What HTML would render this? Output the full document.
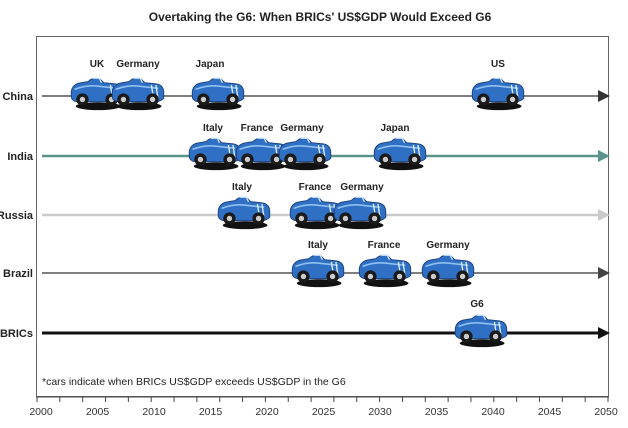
<!DOCTYPE html>
<html><head><meta charset="utf-8"><style>
html,body{margin:0;padding:0;background:#fff;}
svg{display:block;font-family:"Liberation Sans",Arial,sans-serif;}
</style></head><body>
<svg width="628" height="428" viewBox="0 0 628 428" xmlns="http://www.w3.org/2000/svg">
<defs>
<symbol id="car" viewBox="-25 -16 50 30" overflow="visible">
<ellipse cx="1" cy="9" rx="20" ry="3.5" fill="#111"/>
<path d="M-23,-4 Q-22,-11 -14,-12 L-8,-13 Q-4,-17 2,-16 L6,-12 L16,-11 Q23,-10 23,-3 L23,2 Q20,5 16,5 L-18,5 Q-23,4 -23,0 Z" fill="#2f6fc4" stroke="#1a3f7a" stroke-width="0.8"/>
<path d="M-20,-6 Q-10,-10 0,-9 L18,-7" stroke="#8fc0f0" stroke-width="1.5" fill="none"/>
<path d="M12,-10 L14,3 M16,-10 L18,3" stroke="#dfefff" stroke-width="1.2"/>
<path d="M-4,-16 L2,-16 L4,-12" stroke="#cfe6ff" stroke-width="1.2" fill="none"/>
<circle cx="-13" cy="3" r="5.5" fill="#1a1a1a"/><circle cx="-13" cy="3" r="2.4" fill="#ccc"/>
<circle cx="13" cy="3" r="5.5" fill="#1a1a1a"/><circle cx="13" cy="3" r="2.4" fill="#ccc"/>
</symbol>
</defs>
<text x="320" y="21" font-size="12" font-weight="bold" text-anchor="middle" fill="#222">Overtaking the G6: When BRICs' US$GDP Would Exceed G6</text>
<rect x="36.5" y="36.5" width="572" height="360" fill="none" stroke="#666" stroke-width="1"/>
<g font-size="11" font-weight="bold" fill="#222" text-anchor="end">
<text x="33" y="100">China</text><text x="33" y="160">India</text><text x="33" y="219">Russia</text><text x="33" y="277">Brazil</text><text x="33" y="337">BRICs</text>
</g>
<line x1="42" y1="96" x2="600" y2="96" stroke="#555" stroke-width="1.5"/><path d="M598,90 L610,96 L598,102Z" fill="#333"/>
<line x1="42" y1="156" x2="600" y2="156" stroke="#5a938a" stroke-width="2.5"/><path d="M598,150 L610,156 L598,162Z" fill="#5a938a"/>
<line x1="42" y1="215" x2="600" y2="215" stroke="#cacaca" stroke-width="2.5"/><path d="M598,209 L610,215 L598,221Z" fill="#cacaca"/>
<line x1="42" y1="273" x2="600" y2="273" stroke="#555" stroke-width="1.5"/><path d="M598,267 L610,273 L598,279Z" fill="#444"/>
<line x1="42" y1="333" x2="600" y2="333" stroke="#111" stroke-width="3"/><path d="M598,327 L610,333 L598,339Z" fill="#111"/>
<g>
<use href="#car" x="69" y="78" width="56" height="34"/>
<use href="#car" x="110" y="78" width="56" height="34"/>
<use href="#car" x="190" y="78" width="56" height="34"/>
<use href="#car" x="470" y="78" width="56" height="34"/>
<use href="#car" x="187" y="138" width="56" height="34"/>
<use href="#car" x="234" y="138" width="56" height="34"/>
<use href="#car" x="277" y="138" width="56" height="34"/>
<use href="#car" x="372" y="138" width="56" height="34"/>
<use href="#car" x="216" y="197" width="56" height="34"/>
<use href="#car" x="288" y="197" width="56" height="34"/>
<use href="#car" x="332" y="197" width="56" height="34"/>
<use href="#car" x="290" y="255" width="56" height="34"/>
<use href="#car" x="357" y="255" width="56" height="34"/>
<use href="#car" x="420" y="255" width="56" height="34"/>
<use href="#car" x="453" y="315" width="56" height="34"/>
</g>
<g font-size="10" font-weight="bold" fill="#222" text-anchor="middle">
<text x="97" y="67">UK</text><text x="138" y="67">Germany</text><text x="210" y="67">Japan</text><text x="498" y="67">US</text>
<text x="213" y="131">Italy</text><text x="257" y="131">France</text><text x="302" y="131">Germany</text><text x="395" y="131">Japan</text>
<text x="242" y="190">Italy</text><text x="315" y="190">France</text><text x="362" y="190">Germany</text>
<text x="318" y="248">Italy</text><text x="384" y="248">France</text><text x="448" y="248">Germany</text>
<text x="477" y="307">G6</text>
</g>
<text x="42" y="385" font-size="10.5" fill="#222">*cars indicate when BRICs US$GDP exceeds US$GDP in the G6</text>
<line x1="36" y1="397" x2="609" y2="397" stroke="#444" stroke-width="1"/>
<g stroke="#444" stroke-width="1" id="ticks"></g>
<g font-size="10.5" fill="#333" text-anchor="middle" id="lbl"></g>
<script>
var t=document.getElementById('ticks'),l=document.getElementById('lbl'),ns='http://www.w3.org/2000/svg';
for(var y=2000;y<=2050;y+=2){var x=37+(y-2000)*11.42;var e=document.createElementNS(ns,'line');e.setAttribute('x1',x);e.setAttribute('x2',x);e.setAttribute('y1',397);e.setAttribute('y2',402);t.appendChild(e);}
for(var y=2000;y<=2050;y+=5){var x=41+(y-2000)*11.3;var e=document.createElementNS(ns,'text');e.setAttribute('x',x);e.setAttribute('y',415);e.textContent=y;l.appendChild(e);}
</script>
</svg>
</body></html>
